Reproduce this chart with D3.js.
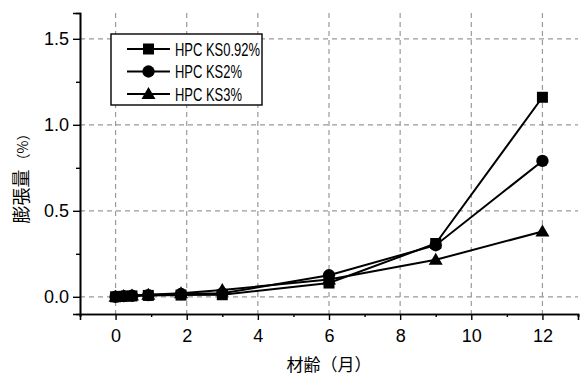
<!DOCTYPE html>
<html>
<head>
<meta charset="utf-8">
<script src="https://cdn.jsdelivr.net/npm/d3@7"></script>
<style>
  body { margin: 0; background: #fff; }
  svg text { font-family: "Liberation Sans", Arial, sans-serif; fill: #000; }
</style>
</head>
<body>
<div id="chart"></div>
<script>
// data
var ages = [0, 0.23, 0.46, 0.92, 1.84, 3, 6, 9, 12];
var ks092 = [0, 0.003, 0.005, 0.008, 0.01, 0.012, 0.08, 0.31, 1.16];
var ks2 = [0, 0.004, 0.006, 0.01, 0.016, 0.02, 0.125, 0.30, 0.79];
var ks3 = [0, 0.005, 0.008, 0.012, 0.02, 0.04, 0.10, 0.215, 0.38];
var seriesNames = ["HPC KS0.92%", "HPC KS2%", "HPC KS3%"];
var markers = ["square", "circle", "triangle"];
var xTicks = [0, 2, 4, 6, 8, 10, 12];
var yTicks = [0, 0.5, 1.0, 1.5];

var svgWidth = 585;
var svgHeight = 376;
var margin = { top: 13, right: 7, bottom: 62, left: 80 };
var width = svgWidth - margin.left - margin.right;
var height = svgHeight - margin.top - margin.bottom;

var svg = d3.select("#chart")
    .append("svg")
    .attr("width", svgWidth)
    .attr("height", svgHeight);

var chartGroup = svg.append("g")
    .attr("transform", `translate(${margin.left}, ${margin.top})`);

var xScale = d3.scaleLinear().domain([-1, 13]).range([0, width]);
var yScale = d3.scaleLinear().domain([-0.1, 1.65]).range([height, 0]);

// grid
chartGroup.append("g").selectAll("line")
    .data(xTicks)
    .enter()
    .append("line")
    .attr("x1", d => xScale(d)).attr("x2", d => xScale(d))
    .attr("y1", 0).attr("y2", height)
    .attr("stroke", "#999").attr("stroke-width", 1.2)
    .attr("stroke-dasharray", "5,4");

chartGroup.append("g").selectAll("line")
    .data(yTicks)
    .enter()
    .append("line")
    .attr("x1", 0).attr("x2", width)
    .attr("y1", d => yScale(d)).attr("y2", d => yScale(d))
    .attr("stroke", "#999").attr("stroke-width", 1.2)
    .attr("stroke-dasharray", "5,4");

// axes
var bottomAxis = d3.axisBottom(xScale).tickValues(xTicks).tickSize(6).tickPadding(9).tickFormat(d3.format("d"));
var bottomMinor = d3.axisBottom(xScale).tickValues([-1, 1, 3, 5, 7, 9, 11, 13]).tickSize(3).tickFormat("");
var leftAxis = d3.axisLeft(yScale).tickValues(yTicks).tickSize(7).tickPadding(4).tickFormat(d3.format(".1f"));
var leftMinor = d3.axisLeft(yScale).tickValues([0.25, 0.75, 1.25]).tickSize(4).tickFormat("");

function styleAxis(g) {
    g.select(".domain").attr("stroke", "#000").attr("stroke-width", 1.6);
    g.selectAll(".tick line").attr("stroke", "#000").attr("stroke-width", 1.4);
    g.selectAll(".tick text")
        .attr("fill", "#000")
        .attr("font-size", "18px")
        .attr("font-family", "Liberation Sans, Arial, sans-serif");
}

chartGroup.append("g").attr("transform", `translate(0, ${height})`).call(bottomMinor).call(styleAxis);
chartGroup.append("g").attr("transform", `translate(0, ${height})`).call(bottomAxis).call(styleAxis);
chartGroup.append("g").call(leftMinor).call(styleAxis);
chartGroup.append("g").call(leftAxis).call(styleAxis);

// series
var allSeries = [ks092, ks2, ks3];

function markerPath(kind) {
    if (kind === "square") return "M-5.5,-5.5H5.5V5.5H-5.5Z";
    if (kind === "circle") return d3.symbol(d3.symbolCircle, 120)();
    return "M0,-7L7,5L-7,5Z";
}

var line = d3.line()
    .x((d, i) => xScale(ages[i]))
    .y(d => yScale(d));

allSeries.forEach(function (vals, k) {
    chartGroup.append("path")
        .datum(vals)
        .attr("d", line)
        .attr("fill", "none")
        .attr("stroke", "#000")
        .attr("stroke-width", 2);
});

allSeries.forEach(function (vals, k) {
    chartGroup.append("g").selectAll("path")
        .data(vals)
        .enter()
        .append("path")
        .attr("transform", (d, i) => `translate(${xScale(ages[i])}, ${yScale(d)})`)
        .attr("d", markerPath(markers[k]))
        .attr("fill", "#000");
});

// legend
var legend = svg.append("g").attr("transform", "translate(111, 34)");
legend.append("rect")
    .attr("x", 0).attr("y", 0)
    .attr("width", 151).attr("height", 71)
    .attr("fill", "#fff").attr("stroke", "#000").attr("stroke-width", 1.4);

var legendRows = legend.selectAll(".row")
    .data(seriesNames)
    .enter()
    .append("g")
    .attr("class", "row")
    .attr("transform", (d, i) => `translate(0, ${15 + i * 22.5})`);

legendRows.append("line")
    .attr("x1", 16).attr("x2", 59)
    .attr("y1", 0).attr("y2", 0)
    .attr("stroke", "#000").attr("stroke-width", 2);

legendRows.append("path")
    .attr("transform", "translate(37.5, 0)")
    .attr("d", (d, i) => markerPath(markers[i]))
    .attr("fill", "#000");

// narrow the legend labels like the original's condensed face
legendRows.append("text")
    .attr("x", 64)
    .attr("y", 6.5)
    .attr("font-size", "18px")
    .text(d => d)
    .each(function () {
        var w = this.getComputedTextLength();
        d3.select(this)
            .attr("textLength", w * 0.72)
            .attr("lengthAdjust", "spacingAndGlyphs");
    });

// axis titles
svg.append("text")
    .attr("x", margin.left + xScale(6))
    .attr("y", 371)
    .attr("text-anchor", "middle")
    .attr("font-size", "17px")
    .style("font-family", "'Noto Sans CJK JP', sans-serif")
    .text("材齢（月）");

var yTitle = svg.append("text")
    .attr("transform", "translate(28, 175) rotate(-90)")
    .attr("text-anchor", "middle")
    .style("font-family", "'Noto Sans CJK JP', sans-serif");
yTitle.append("tspan").attr("font-size", "18px").text("膨張量");
yTitle.append("tspan").attr("font-size", "14px").attr("dx", 2).text("（%）");
</script>
</body>
</html>
